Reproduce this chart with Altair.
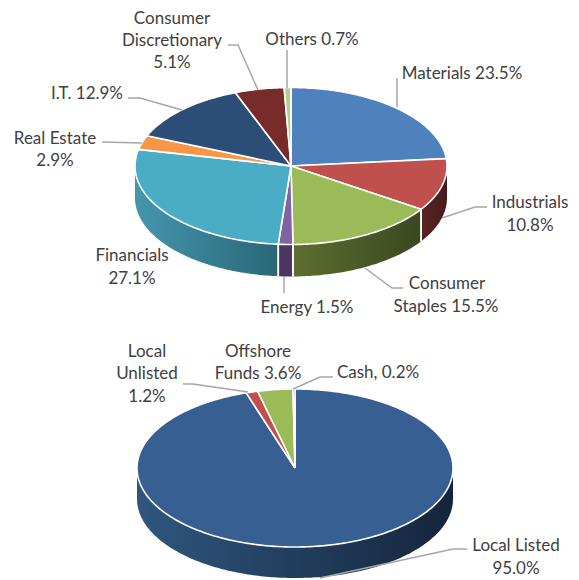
import math
import altair as alt
import pandas as pd

# ---- data ----
sector_names = ["Materials", "Industrials", "Consumer Staples", "Energy", "Financials",
                "Real Estate", "I.T.", "Consumer Discretionary", "Others"]
sector_values = [23.5, 10.8, 15.5, 1.5, 27.1, 2.9, 12.9, 5.1, 0.7]
sector_colors = ["#4F81BD", "#C0504D", "#9BBB59", "#8064A2", "#4BACC6",
                 "#F79646", "#2C4D75", "#772C2A", "#B9CE8B"]
sector_sides = [("#4F81BD", "#4F81BD"), ("#5A2423", "#471B1B"), ("#5C6F30", "#3B4720"),
                ("#4A3660", "#4A3660"), ("#4496AE", "#2A6676"), ("#F79646", "#F79646"),
                ("#2C4D75", "#2C4D75"), ("#772C2A", "#772C2A"), ("#B9CE8B", "#B9CE8B")]

asset_names = ["Local Listed", "Local Unlisted", "Offshore Funds", "Cash"]
asset_values = [95.0, 1.2, 3.6, 0.2]
asset_colors = ["#375F92", "#C0504D", "#9BBB59", "#8064A2"]
asset_sides = [("#30567F", "#14253B"), ("#C0504D", "#C0504D"),
               ("#9BBB59", "#9BBB59"), ("#8064A2", "#8064A2")]

# ---- layout ----
X0, X1, Y0, Y1 = 8, 571, 8, 580
X_SCALE = alt.Scale(domain=[X0, X1], range=[0, X1 - X0])
Y_SCALE = alt.Scale(domain=[Y1, Y0], range=[Y1 - Y0, 0])
FONT = "Lato"
TEXT_COLOR = "#404040"
LEADER = "#A6A6A6"

sector_geom = dict(cx=291, cy=166, rx=156, ry=78.5, depth=32)
asset_geom = dict(cx=295, cy=468, rx=158, ry=79, depth=31)

sector_labels = [
    ("Consumer", 172, 18), ("Discretionary", 172, 40), ("5.1%", 172, 62),
    ("Others 0.7%", 312, 39), ("Materials 23.5%", 462, 73),
    ("Industrials", 530, 202), ("10.8%", 530, 225),
    ("Consumer", 447, 283), ("Staples 15.5%", 446, 306),
    ("Energy 1.5%", 307, 307), ("Financials", 132, 255), ("27.1%", 132, 278),
    ("Real Estate", 55, 138), ("2.9%", 55, 160), ("I.T. 12.9%", 87, 93),
]
asset_labels = [
    ("Local", 147, 351), ("Unlisted", 147, 373), ("1.2%", 147, 396),
    ("Offshore", 258, 351), ("Funds 3.6%", 258, 373), ("Cash, 0.2%", 378, 372),
    ("Local Listed", 516, 545), ("95.0%", 516, 568),
]
leaders = [
    [(228, 45), (238, 45), (258, 90)],
    [(287, 50), (287, 88)],
    [(397, 78), (397, 107)],
    [(487, 207), (475, 207), (442, 218)],
    [(403, 288), (392, 288), (365, 268)],
    [(284, 293), (284, 277)],
    [(102, 142), (142, 143)],
    [(128, 98), (140, 98), (182, 110)],
    [(183, 384), (193, 384), (248, 392)],
    [(333, 377), (320, 377), (293, 389)],
    [(467, 549), (453, 549), (320, 578)],
]


def px(field):
    return alt.X(field, type="quantitative", scale=X_SCALE, axis=None)


def py(field):
    return alt.Y(field, type="quantitative", scale=Y_SCALE, axis=None)


def ellipse_point(g, deg):
    a = math.radians(deg)
    return g["cx"] + g["rx"] * math.sin(a), g["cy"] - g["ry"] * math.cos(a)


def arc_degrees(a, b):
    n = max(2, int(abs(b - a)) + 2)
    return [a + (b - a) * i / (n - 1) for i in range(n)]


def pie_layers(values, colors, sides, g):
    total = sum(values)
    side_layers, rule_rows, top_layers = [], [], []
    start = 0.0
    for value, color, side in zip(values, colors, sides):
        end = start + 360.0 * value / total
        # rim: the part of the slice that faces the viewer
        lo, hi = max(start, 90.0), min(end, 270.0)
        if hi > lo:
            rows = []
            for d in arc_degrees(lo, hi):
                x, y = ellipse_point(g, d)
                rows.append({"x": x, "y": y, "y2": y + g["depth"]})
            # left-to-right order so the gradient and area run with x
            rows.sort(key=lambda r: r["x"])
            grad = alt.Gradient(
                gradient="linear", x1=0, x2=1, y1=0, y2=0,
                stops=[alt.GradientStop(color=side[0], offset=0),
                       alt.GradientStop(color=side[1], offset=1)],
            )
            side_layers.append(
                alt.Chart(pd.DataFrame(rows)).mark_area(color=grad).encode(
                    x=px("x"), y=py("y"), y2="y2:Q")
            )
            for d in (lo, hi):
                if 90.0 < d < 270.0:
                    x, y = ellipse_point(g, d)
                    rule_rows.append({"x": x, "y": y, "y2": y + g["depth"]})
        # top face
        pts = [(g["cx"], g["cy"])] + [ellipse_point(g, d) for d in arc_degrees(start, end)]
        pts.append((g["cx"], g["cy"]))
        df = pd.DataFrame({"x": [p[0] for p in pts], "y": [p[1] for p in pts],
                           "i": range(len(pts))})
        top_layers.append(
            alt.Chart(df).mark_line(fill=color, stroke="white", strokeWidth=1.6,
                                    strokeJoin="round").encode(
                x=px("x"), y=py("y"), order=alt.Order("i:Q"))
        )
        start = end
    layers = list(side_layers)
    if rule_rows:
        layers.append(
            alt.Chart(pd.DataFrame(rule_rows)).mark_rule(color="white", strokeWidth=1.6).encode(
                x=px("x"), y=py("y"), y2="y2:Q")
        )
    return layers + top_layers


leader_rows = []
for k, path in enumerate(leaders):
    for i, (x, y) in enumerate(path):
        leader_rows.append({"x": x, "y": y, "k": k, "i": i})
leader_layer = alt.Chart(pd.DataFrame(leader_rows)).mark_line(
    color=LEADER, strokeWidth=1.5).encode(
    x=px("x"), y=py("y"), detail="k:N", order=alt.Order("i:Q"))

label_df = pd.DataFrame(sector_labels + asset_labels, columns=["t", "x", "y"])
text_layer = alt.Chart(label_df).mark_text(
    font=FONT, fontSize=17, color=TEXT_COLOR, align="center", baseline="middle", dy=1).encode(
    x=px("x"), y=py("y"), text="t:N")

layers = (pie_layers(sector_values, sector_colors, sector_sides, sector_geom)
          + pie_layers(asset_values, asset_colors, asset_sides, asset_geom)
          + [leader_layer, text_layer])

chart = alt.layer(*layers).properties(
    width=X1 - X0, height=Y1 - Y0, padding=0,
    autosize=alt.AutoSizeParams(type="none"),
).configure_view(stroke=None)

chart.save("out.html", embed_options={"renderer": "svg", "actions": False})
